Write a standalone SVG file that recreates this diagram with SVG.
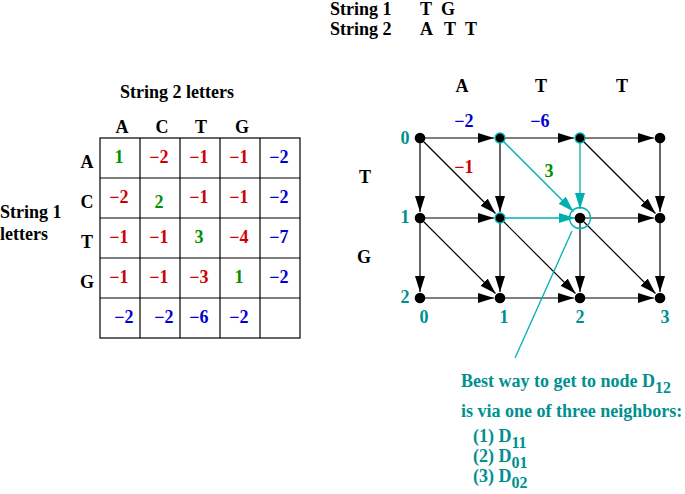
<svg xmlns="http://www.w3.org/2000/svg" width="685" height="494" viewBox="0 0 685 494">
<style>
text{font-family:"Liberation Serif","Times New Roman",serif;font-weight:bold;font-size:18px}
.m{text-anchor:middle}
.r{fill:#d00000}
.b{fill:#0000d0}
.g{fill:#009000}
.t{fill:#009090}
.s{font-size:16px}
.e{stroke:#000;stroke-width:1.2;fill:none;marker-end:url(#ak)}
.c{stroke:#00b0b0;stroke-width:1.3;fill:none;marker-end:url(#ac)}
.grid{stroke:#000;stroke-width:1.2;fill:none}
.n{fill:#000}
.nc{fill:#000;stroke:#00b0b0;stroke-width:1.3}
</style>
<defs>
<marker id="ak" markerUnits="userSpaceOnUse" markerWidth="16" markerHeight="10" refX="16" refY="5" orient="auto"><path d="M0,0 L16,5 L0,10 z" fill="#000"/></marker>
<marker id="ac" markerUnits="userSpaceOnUse" markerWidth="16" markerHeight="10" refX="16" refY="5" orient="auto"><path d="M0,0 L16,5 L0,10 z" fill="#00b0b0"/></marker>
</defs>
<rect width="685" height="494" fill="#fff"/>

<g id="header">
<text x="330" y="15">String 1</text>
<text x="420" y="15">T</text>
<text x="441" y="15">G</text>
<text x="330" y="35">String 2</text>
<text x="420" y="35">A</text>
<text x="444" y="35">T</text>
<text x="465" y="35">T</text>
</g>

<g id="score-table">
<text class="m" x="177" y="98">String 2 letters</text>
<text x="0" y="218">String 1</text>
<text x="0" y="240">letters</text>
<text class="m" x="122" y="133">A</text>
<text class="m" x="162" y="133">C</text>
<text class="m" x="201" y="133">T</text>
<text class="m" x="242" y="133">G</text>
<text class="m" x="87" y="168">A</text>
<text class="m" x="87" y="208">C</text>
<text class="m" x="87" y="248">T</text>
<text class="m" x="87" y="288">G</text>
<rect class="grid" x="100" y="138" width="200" height="200"/>
<path class="grid" d="M140,138V338M180,138V338M220,138V338M260,138V338M100,178H300M100,218H300M100,258H300M100,298H300"/>
<text class="m g" x="119" y="163">1</text>
<text class="m r" x="159" y="163">−2</text>
<text class="m r" x="199" y="163">−1</text>
<text class="m r" x="239" y="163">−1</text>
<text class="m b" x="279" y="163">−2</text>
<text class="m r" x="119" y="203">−2</text>
<text class="m g" x="159" y="208">2</text>
<text class="m r" x="199" y="203">−1</text>
<text class="m r" x="239" y="203">−1</text>
<text class="m b" x="279" y="203">−2</text>
<text class="m r" x="119" y="243">−1</text>
<text class="m r" x="159" y="243">−1</text>
<text class="m g" x="199" y="243">3</text>
<text class="m r" x="239" y="243">−4</text>
<text class="m b" x="279" y="243">−7</text>
<text class="m r" x="119" y="283">−1</text>
<text class="m r" x="159" y="283">−1</text>
<text class="m r" x="199" y="283">−3</text>
<text class="m g" x="239" y="283">1</text>
<text class="m b" x="279" y="283">−2</text>
<text class="m b" x="124" y="323">−2</text>
<text class="m b" x="164" y="323">−2</text>
<text class="m b" x="199" y="323">−6</text>
<text class="m b" x="239" y="323">−2</text>
</g>

<g id="grid-labels">
<text class="m" x="462" y="92">A</text>
<text class="m" x="541" y="92">T</text>
<text class="m" x="622" y="92">T</text>
<text class="m" x="365" y="183">T</text>
<text class="m" x="364" y="263">G</text>
<text class="m t" x="405" y="144">0</text>
<text class="m t" x="405" y="223">1</text>
<text class="m t" x="405" y="303">2</text>
<text class="m t" x="424" y="323">0</text>
<text class="m t" x="504" y="323">1</text>
<text class="m t" x="580" y="323">2</text>
<text class="m t" x="665" y="323">3</text>
<text class="m b" x="464" y="127">−2</text>
<text class="m b" x="540" y="127">−6</text>
<text class="m r" x="464" y="173">−1</text>
<text class="m g" x="549" y="177">3</text>
</g>

<g id="connectors">
<line class="e" x1="420" y1="138" x2="494" y2="138"/>
<line class="e" x1="500" y1="138" x2="574" y2="138"/>
<line class="e" x1="580" y1="138" x2="654" y2="138"/>
<line class="e" x1="420" y1="218" x2="494" y2="218"/>
<line class="c" x1="500" y1="218" x2="575" y2="218"/>
<line class="e" x1="580" y1="218" x2="654" y2="218"/>
<line class="e" x1="420" y1="298" x2="494" y2="298"/>
<line class="e" x1="500" y1="298" x2="574" y2="298"/>
<line class="e" x1="580" y1="298" x2="654" y2="298"/>
<line class="e" x1="420" y1="138" x2="420" y2="212"/>
<line class="e" x1="420" y1="218" x2="420" y2="292"/>
<line class="e" x1="500" y1="138" x2="500" y2="212"/>
<line class="e" x1="500" y1="218" x2="500" y2="292"/>
<line class="c" x1="580" y1="138" x2="580" y2="209"/>
<line class="e" x1="580" y1="218" x2="580" y2="292"/>
<line class="e" x1="660" y1="138" x2="660" y2="212"/>
<line class="e" x1="660" y1="218" x2="660" y2="292"/>
<line class="e" x1="420" y1="138" x2="495.5" y2="213.5"/>
<line class="c" x1="500" y1="138" x2="573.5" y2="211.5"/>
<line class="e" x1="580" y1="138" x2="655.5" y2="213.5"/>
<line class="e" x1="420" y1="218" x2="495.5" y2="293.5"/>
<line class="e" x1="500" y1="218" x2="575.5" y2="293.5"/>
<line class="e" x1="580" y1="218" x2="655.5" y2="293.5"/>
<line x1="572" y1="231" x2="515" y2="358" stroke="#00b0b0" stroke-width="1.3"/>
</g>

<g id="nodes">
<circle id="n00" class="n" cx="420" cy="138" r="5.3"/>
<circle id="n01" class="nc" cx="500" cy="138" r="5"/>
<circle id="n02" class="nc" cx="580" cy="138" r="5"/>
<circle id="n03" class="n" cx="660" cy="138" r="5.3"/>
<circle id="n10" class="n" cx="420" cy="218" r="5.3"/>
<circle id="n11" class="nc" cx="500" cy="218" r="5"/>
<g id="n12"><circle class="n" cx="580" cy="218" r="5.3"/><circle cx="580" cy="218" r="10.5" fill="none" stroke="#00b0b0" stroke-width="1.3"/></g>
<circle id="n13" class="n" cx="660" cy="218" r="5.3"/>
<circle id="n20" class="n" cx="420" cy="298" r="5.3"/>
<circle id="n21" class="n" cx="500" cy="298" r="5.3"/>
<circle id="n22" class="n" cx="580" cy="298" r="5.3"/>
<circle id="n23" class="n" cx="660" cy="298" r="5.3"/>
</g>

<g id="note" class="t">
<text x="461" y="387">Best way to get to node D<tspan class="s" dy="6">12</tspan></text>
<text x="461" y="417">is via one of three neighbors:</text>
<text x="473" y="442">(1) D<tspan class="s" dy="6">11</tspan></text>
<text x="473" y="462">(2) D<tspan class="s" dy="6">01</tspan></text>
<text x="473" y="482">(3) D<tspan class="s" dy="6">02</tspan></text>
</g>
</svg>
